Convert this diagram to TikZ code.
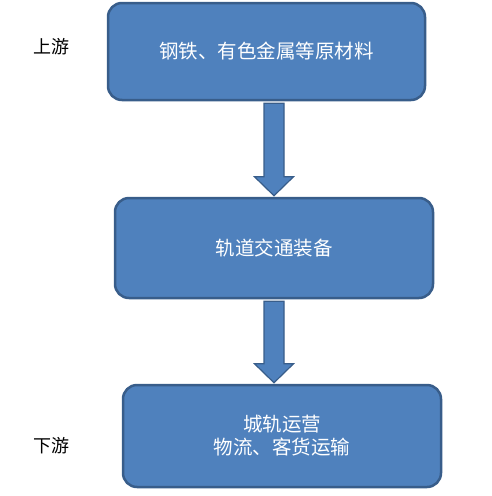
\documentclass[tikz,border=0pt]{standalone}
\usepackage{fontspec}
\setmainfont{Noto Sans CJK SC}
\usetikzlibrary{calc}
\definecolor{boxblue}{HTML}{4F81BD}
\definecolor{boxline}{HTML}{385D8A}
\tikzset{
  stagebox/.style={draw=boxline,line width=2.5pt,fill=boxblue,rounded corners=14pt,text=white,align=center,inner sep=0pt,font=\fontsize{19.5}{23}\selectfont},
  flowarrow/.style={draw=boxline,line width=1.2pt,fill=boxblue,line join=miter},
  sidelabel/.style={font=\fontsize{18}{22}\selectfont}
}
\begin{document}
\begin{tikzpicture}[x=1pt,y=-1pt]
\useasboundingbox (0,0) rectangle (492,496);
\node[stagebox,minimum width=317pt,minimum height=97pt] (raw) at (266.5,51.5) {钢铁、有色金属等原材料};
\node[stagebox,minimum width=318pt,minimum height=100pt] (equip) at (274,248) {轨道交通装备};
\node[stagebox,minimum width=318pt,minimum height=102pt] (ops) at (282,436) {城轨运营\\物流、客货运输};
\node[sidelabel] (upstream) at (52,47) {上游};
\node[sidelabel] (downstream) at (52,446) {下游};
\foreach \from/\to in {raw/equip,equip/ops}{
  \coordinate (\from-tail) at (274,0 |- \from.south);
  \coordinate (\to-tip) at (274,0 |- \to.north);
  \draw[flowarrow] ($(\from-tail)+(-10,2)$) -- ($(\to-tip)+(-10,-20)$) -- ($(\to-tip)+(-19.5,-20)$) -- ($(\to-tip)+(0,-1)$) -- ($(\to-tip)+(19.5,-20)$) -- ($(\to-tip)+(10,-20)$) -- ($(\from-tail)+(10,2)$) -- cycle;
}
\end{tikzpicture}
\end{document}
